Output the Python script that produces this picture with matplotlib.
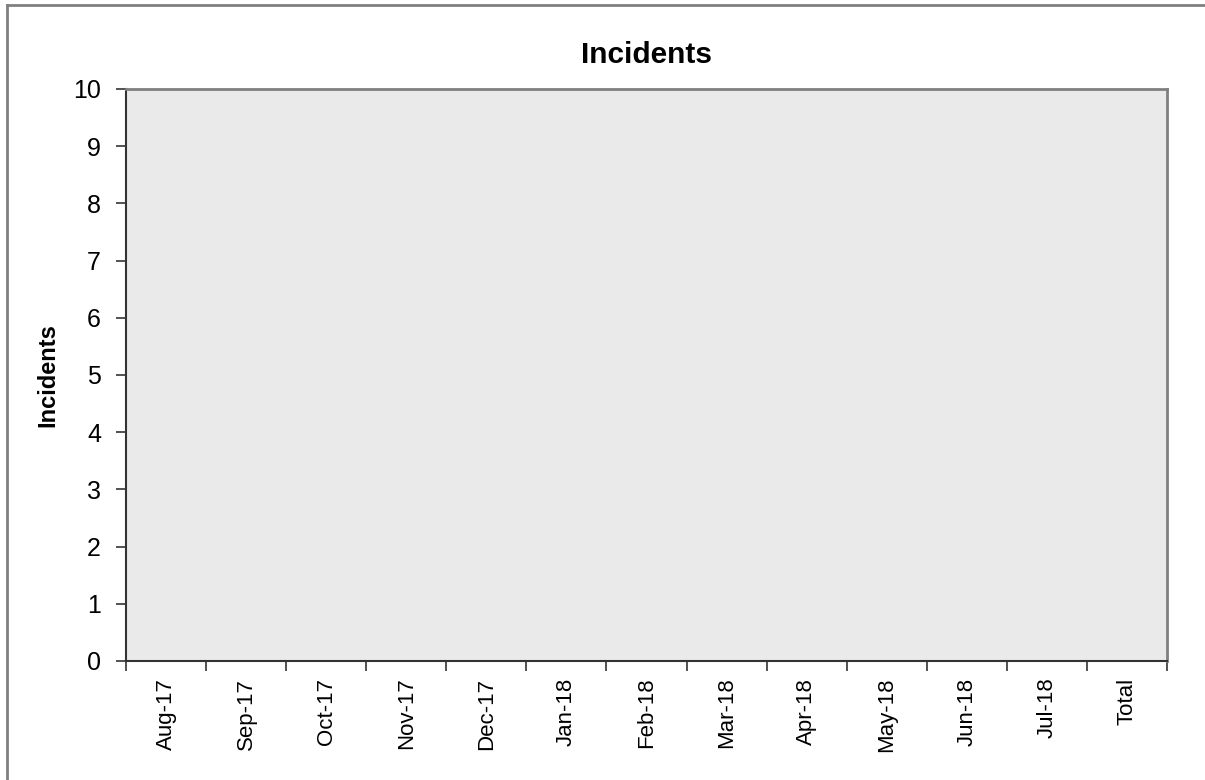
import matplotlib
matplotlib.use("Agg")
import matplotlib.pyplot as plt
from matplotlib.lines import Line2D
import numpy as np

plt.rcParams['font.family'] = ['Liberation Sans', 'DejaVu Sans']

months = ["Aug-17", "Sep-17", "Oct-17", "Nov-17", "Dec-17", "Jan-18", "Feb-18",
          "Mar-18", "Apr-18", "May-18", "Jun-18", "Jul-18", "Total"]
incidents = [0, 0, 0, 0, 0, 0, 0, 0, 0, 0, 0, 0, 0]

W, H = 1205, 780
fig = plt.figure(figsize=(W / 100, H / 100), dpi=100)
ax = fig.add_axes([126 / W, 1 - 661 / H, (1167 - 126) / W, (661 - 89) / H])
ax.set_facecolor("#eaeaea")

x = np.arange(len(months)) + 0.5
ax.bar(x, incidents, width=0.6, color="#9999ff", edgecolor="black")

ax.set_xlim(0, len(months))
ax.set_ylim(0, 10)
ax.set_yticks(range(0, 11))
ax.tick_params(axis="y", labelsize=18, length=7, width=1.2, color="#333333", pad=11)

# category boundaries get the tick marks, centres get the labels
ax.set_xticks(range(0, len(months) + 1))
ax.set_xticklabels([])
ax.tick_params(axis="x", which="major", length=7, width=1.2, color="#333333")
ax.set_xticks(x, minor=True)
ax.set_xticklabels(months, minor=True, rotation=90, fontsize=16)
ax.tick_params(axis="x", which="minor", length=0, pad=12)

for s in ["left", "bottom"]:
    ax.spines[s].set_color("#333333")
    ax.spines[s].set_linewidth(1.5)
for s in ["top", "right"]:
    ax.spines[s].set_color("#808080")
    ax.spines[s].set_linewidth(2)

ax.set_title("Incidents", fontsize=21.5, fontweight="bold", pad=19)
ax.set_ylabel("Incidents", fontsize=17, fontweight="bold", labelpad=10)

# outer chart border
fig.add_artist(Line2D([7 / W, 1.0], [1 - 5 / H, 1 - 5 / H], transform=fig.transFigure,
                      color="#808080", lw=2))
fig.add_artist(Line2D([7 / W, 7 / W], [0, 1 - 5 / H], transform=fig.transFigure,
                      color="#808080", lw=2))

fig.savefig("out.png", dpi=100)
